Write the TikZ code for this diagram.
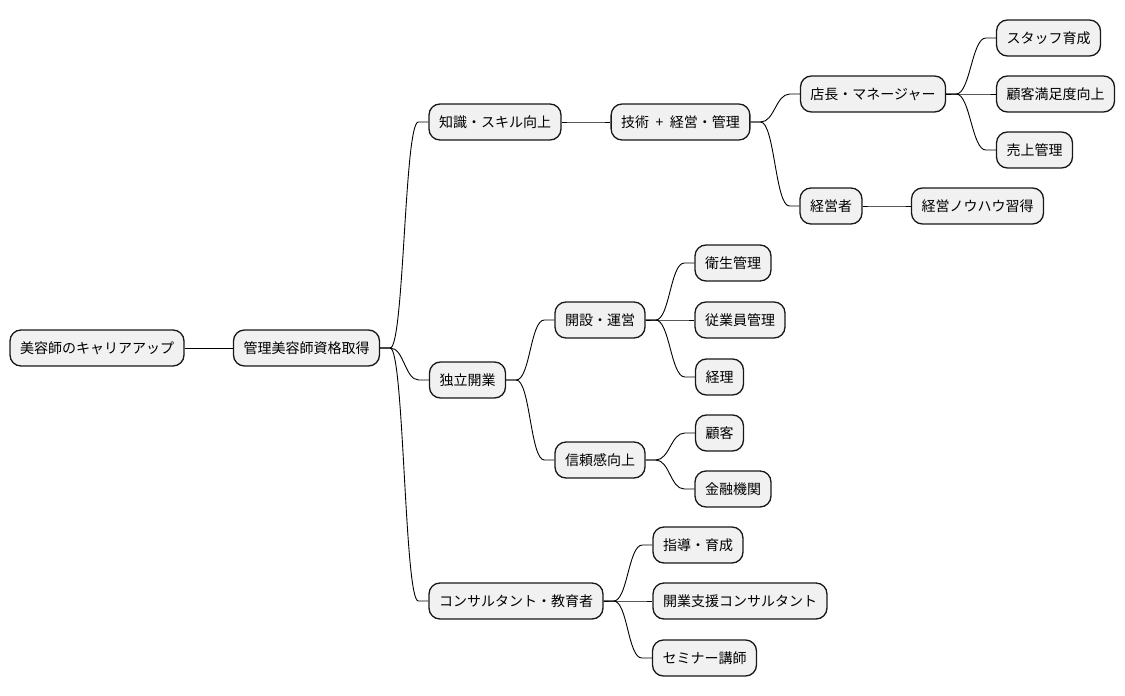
\documentclass[tikz,border=0pt]{standalone}
\usepackage{fontspec}
\newfontfamily\jpfont{Noto Sans CJK JP}
\usepackage{tikz}
\usetikzlibrary{calc}
\definecolor{nodefill}{RGB}{241, 241, 241}
\definecolor{nodeline}{RGB}{24, 24, 24}

\begin{document}
\begin{tikzpicture}[
  x=1pt, y=-1pt,
  topic/.style={rectangle, draw=nodeline, fill=nodefill, line width=1.3pt, rounded corners=11pt, minimum height=36pt, inner xsep=10pt, font=\jpfont\fontsize{14}{16}\selectfont},
  branch/.style={line width=0.9pt, to path={-- ++(10pt,0) .. controls +(14pt,0) and +(-14pt,0) .. ([xshift=-10pt]\tikztotarget) -- (\tikztotarget)}}
]
  \useasboundingbox (0,0) rectangle (1125,696);

  % level 0 and 1
  \node[topic] (root) at (97, 348) {美容師のキャリアアップ};
  \node[topic] (license) at (306.5, 348) {管理美容師資格取得};

  % skill branch
  \node[topic] (skill) at (495, 122) {知識・スキル向上};
  \node[topic] (techmgmt) at (680.5, 122) {技術\hspace{6.5pt}+\hspace{6.5pt}経営・管理};
  \node[topic] (manager) at (873, 94) {店長・マネージャー};
  \node[topic] (staff) at (1048.5, 38) {スタッフ育成};
  \node[topic] (satisfaction) at (1055.5, 94) {顧客満足度向上};
  \node[topic] (sales) at (1034.5, 150) {売上管理};
  \node[topic] (owner) at (831, 206) {経営者};
  \node[topic] (knowhow) at (977.5, 206) {経営ノウハウ習得};

  % independence branch
  \node[topic] (indep) at (467.5, 380) {独立開業};
  \node[topic] (opening) at (600, 320) {開設・運営};
  \node[topic] (hygiene) at (733, 263) {衛生管理};
  \node[topic] (employee) at (740, 320) {従業員管理};
  \node[topic] (accounting) at (719.5, 377) {経理};
  \node[topic] (trust) at (600, 460) {信頼感向上};
  \node[topic] (customer) at (719.5, 433) {顧客};
  \node[topic] (finance) at (733, 489) {金融機関};

  % consultant branch
  \node[topic] (consult) at (516, 601) {コンサルタント・教育者};
  \node[topic] (guidance) at (698, 545) {指導・育成};
  \node[topic] (support) at (740, 601) {開業支援コンサルタント};
  \node[topic] (seminar) at (704.5, 658) {セミナー講師};

  \draw[line width=0.9pt] (root.east) -- (license.west);
  \draw[branch] (license.east) to (skill.west);
  \draw[branch] (license.east) to (indep.west);
  \draw[branch] (license.east) to (consult.west);

  \draw[branch] (skill.east) to (techmgmt.west);
  \draw[branch] (techmgmt.east) to (manager.west);
  \draw[branch] (techmgmt.east) to (owner.west);
  \draw[branch] (manager.east) to (staff.west);
  \draw[branch] (manager.east) to (satisfaction.west);
  \draw[branch] (manager.east) to (sales.west);
  \draw[branch] (owner.east) to (knowhow.west);

  \draw[branch] (indep.east) to (opening.west);
  \draw[branch] (indep.east) to (trust.west);
  \draw[branch] (opening.east) to (hygiene.west);
  \draw[branch] (opening.east) to (employee.west);
  \draw[branch] (opening.east) to (accounting.west);
  \draw[branch] (trust.east) to (customer.west);
  \draw[branch] (trust.east) to (finance.west);

  \draw[branch] (consult.east) to (guidance.west);
  \draw[branch] (consult.east) to (support.west);
  \draw[branch] (consult.east) to (seminar.west);
\end{tikzpicture}
\end{document}
